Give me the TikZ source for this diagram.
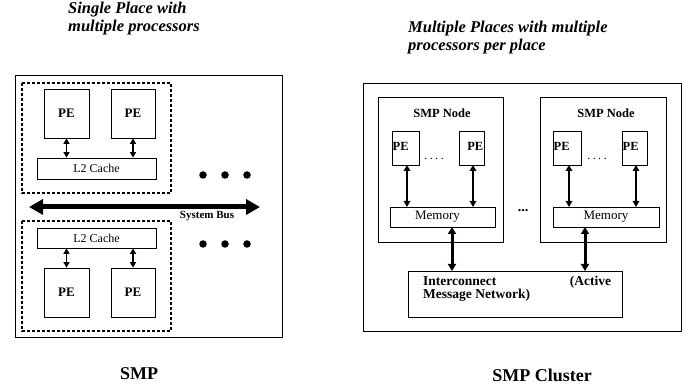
\documentclass[tikz,border=0pt]{standalone}
\usepackage{fontspec}
\setmainfont{Liberation Serif}
\usetikzlibrary{arrows.meta}
\begin{document}
\begin{tikzpicture}[x=1pt,y=-1pt,
  box/.style={draw,line width=0.8pt},
  dbox/.style={draw,line width=1.4pt,dash pattern=on 3pt off 2pt},
  small/.style={font=\fontsize{12}{13}\selectfont},
  smallb/.style={font=\fontsize{12.5}{13}\selectfont\bfseries},
  peb/.style={font=\fontsize{13}{13}\selectfont\bfseries},
  title/.style={font=\fontsize{16.5}{17.5}\selectfont\bfseries\itshape,align=left,anchor=north west,inner sep=0pt},
  thinarr/.style={line width=1.3pt,{Triangle[width=6pt,length=5.5pt]}-{Triangle[width=6pt,length=5.5pt]}},
  midarr/.style={line width=1.6pt,{Triangle[width=6.5pt,length=6pt]}-{Triangle[width=6.5pt,length=6pt]}},
  thickarr/.style={line width=3pt,{Triangle[width=8pt,length=7pt]}-{Triangle[width=8pt,length=7pt]}},
  busarr/.style={line width=5pt,{Triangle[width=15pt,length=14pt]}-{Triangle[width=15pt,length=14pt]}},
  blob/.style={circle,fill,inner sep=0pt,minimum size=7.5pt},
]
\useasboundingbox (0,0) rectangle (699,387);

% ---------- left: SMP ----------
\node[title] (t1) at (68,2) {Single Place with\\multiple processors};

\draw[box] (15,75) rectangle (282,337);
\draw[dbox] (22,83) rectangle (171,193);
\draw[dbox] (22,221) rectangle (171,331);

\node[box,minimum width=45pt,minimum height=49pt,inner sep=0pt,peb] (pe1) at (66.5,113.5) {PE};
\node[box,minimum width=44pt,minimum height=49pt,inner sep=0pt,peb] (pe2) at (133,113.5) {PE};
\node[box,minimum width=119pt,minimum height=21pt,inner sep=0pt,small] (l2a) at (96.5,168.5) {L2 Cache};
\draw[thinarr] (pe1.south) -- (pe1.south |- l2a.north);
\draw[thinarr] (pe2.south) -- (pe2.south |- l2a.north);

\node[box,minimum width=119pt,minimum height=20pt,inner sep=0pt,small] (l2b) at (96.5,238) {L2 Cache};
\node[box,minimum width=45pt,minimum height=49pt,inner sep=0pt,peb] (pe3) at (66.5,292.5) {PE};
\node[box,minimum width=44pt,minimum height=49pt,inner sep=0pt,peb] (pe4) at (133,292.5) {PE};
\draw[thinarr] (pe3.north |- l2b.south) -- (pe3.north);
\draw[thinarr] (pe4.north |- l2b.south) -- (pe4.north);

\coordinate (busl) at (29,207);
\coordinate (busr) at (260,207);
\draw[busarr] (busl) -- (busr);
\node[font=\fontsize{11}{12}\selectfont\bfseries] (buslbl) at (207,216) {System Bus};

\node[blob] (d1) at (203,175) {};
\node[blob] (d2) at (225,175) {};
\node[blob] (d3) at (247,175) {};
\node[blob] (d4) at (203,244) {};
\node[blob] (d5) at (225,244) {};
\node[blob] (d6) at (247,244) {};

\node[font=\fontsize{18}{20}\selectfont\bfseries] (smp) at (139,374) {SMP};

% ---------- right: SMP Cluster ----------
\node[title] (t2) at (408,21) {Multiple Places with multiple\\processors per place};

\draw[box] (363,83) rectangle (681,331);

\node[box,minimum width=125pt,minimum height=145pt,inner sep=0pt] (n1) at (440.5,169.5) {};
\node[box,minimum width=126pt,minimum height=145pt,inner sep=0pt] (n2) at (603,169.5) {};
\node[smallb] (n1l) at (442,113) {SMP Node};
\node[smallb] (n2l) at (606,113) {SMP Node};

\node[box,minimum width=27pt,minimum height=34pt,inner sep=0pt] (pa) at (405.5,148) {};
\node[box,minimum width=25pt,minimum height=34pt,inner sep=0pt] (pb) at (471.5,148) {};
\node[box,minimum width=28pt,minimum height=34pt,inner sep=0pt] (pc) at (567,148) {};
\node[box,minimum width=25pt,minimum height=34pt,inner sep=0pt] (pd) at (634.5,148) {};
\node[smallb,anchor=west,inner sep=0pt] (pal) at (392.5,146) {PE};
\node[smallb,anchor=east,inner sep=0pt] (pbl) at (483.5,146) {PE};
\node[smallb,anchor=west,inner sep=0pt] (pcl) at (553.5,146) {PE};
\node[smallb,anchor=west,inner sep=0pt] (pdl) at (622.5,146) {PE};
\node[small] (dots1) at (434,159) {.\hspace{2.5pt}.\hspace{2.5pt}.\hspace{2.5pt}.};
\node[small] (dots2) at (597,159) {.\hspace{2.5pt}.\hspace{2.5pt}.\hspace{2.5pt}.};

\node[box,minimum width=105pt,minimum height=20pt,inner sep=0pt,font=\fontsize{13}{13}\selectfont] (m1) at (442.5,217) {\hspace*{-10pt}Memory};
\node[box,minimum width=106pt,minimum height=20pt,inner sep=0pt,font=\fontsize{13}{13}\selectfont] (m2) at (606,217) {Memory};
\node[font=\fontsize{14}{14}\selectfont\bfseries] (dots3) at (523,211) {...};

\draw[midarr] (407,165) -- (407,207);
\draw[midarr] (473,165) -- (473,207);
\draw[midarr] (569,165) -- (569,207);
\draw[midarr] (636,165) -- (636,207);

\node[box,minimum width=214pt,minimum height=46pt,inner sep=0pt] (ic) at (515,294) {};
\node[font=\fontsize{13.5}{12.5}\selectfont\bfseries,anchor=north west,inner sep=0pt] (icl) at (423,276) {\parbox{188pt}{Interconnect\hfill(Active\\Message Network)}};

\draw[thickarr] (452,227) -- (452,271);
\draw[thickarr] (585,227) -- (585,271);

\node[font=\fontsize{18}{20}\selectfont\bfseries] (smpc) at (542,375) {SMP Cluster};
\end{tikzpicture}
\end{document}
